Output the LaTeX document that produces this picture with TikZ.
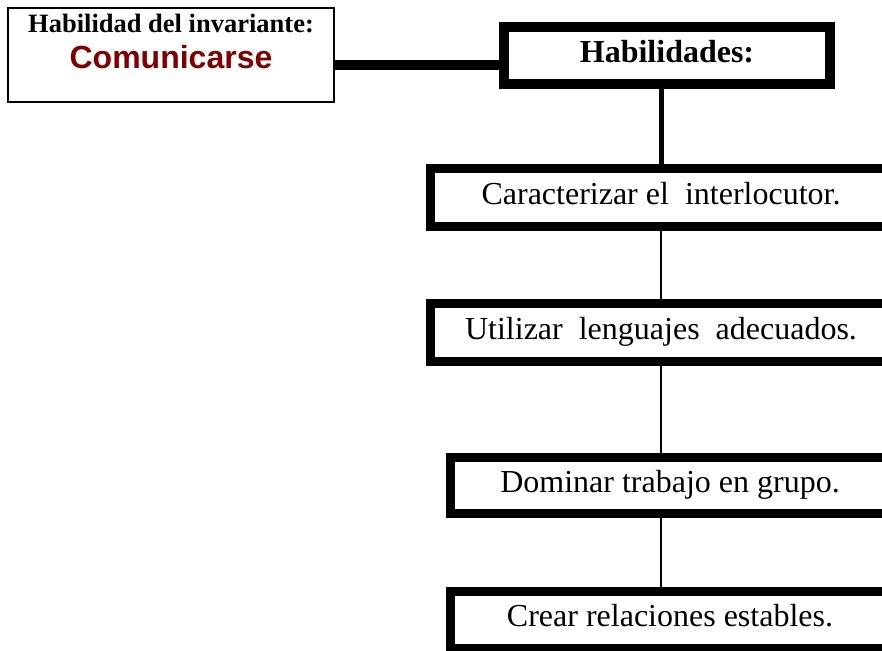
\documentclass[tikz,border=0pt]{standalone}
\usepackage{fontspec}
\setmainfont{Liberation Serif}
\newfontfamily\arialfont{Liberation Sans}
\definecolor{darkred}{HTML}{800000}
\begin{document}
\begin{tikzpicture}[x=1pt,y=-1pt,
  invbox/.style={draw,line width=1.5pt,minimum width=326pt,minimum height=94pt,inner sep=0pt},
  habbox/.style={draw,line width=10pt,minimum width=326pt,minimum height=57pt,inner sep=0pt,font=\fontsize{32}{38}\selectfont\bfseries},
  skillbox/.style={draw,line width=9pt,minimum height=56pt,inner sep=0pt,font=\fontsize{32}{38}\selectfont,text height=21pt,text depth=8pt},
  thickconn/.style={line width=10pt},
  midconn/.style={line width=5pt},
  thinconn/.style={line width=2pt}]
\useasboundingbox (0,0) rectangle (882,650);
\clip (0,0) rectangle (882,650);
\fill[white] (0,0) rectangle (882,650);
% left box
\node[invbox] (inv) at (171,55) {};
\node[anchor=base,font=\fontsize{26.5}{30}\selectfont\bfseries] (invt) at (171,33) {Habilidad del invariante:};
\node[anchor=base,font=\fontsize{32}{36}\selectfont\arialfont\bfseries,text=darkred] (invc) at (171,69) {Comunicarse};
% habilidades
\node[habbox,text height=22pt,text depth=7pt] (hab) at (667,55.5) {Habilidades:};
% skills
\node[skillbox,minimum width=461pt,minimum height=58pt] (c1) at (661,197.5) {Caracterizar el\ \ interlocutor.};
\node[skillbox,minimum width=461pt,minimum height=58pt] (c2) at (661,332.5) {Utilizar\ \ lenguajes\ \ adecuados.};
\node[skillbox,minimum width=439pt] (c3) at (670,485.5) {Dominar trabajo en grupo.};
\node[skillbox,minimum width=439pt,minimum height=57pt] (c4) at (670,620) {Crear relaciones estables.};
% connectors
\draw[thickconn] ([yshift=-10pt]inv.east) -- ([yshift=-10pt]inv.east -| hab.west);
\draw[midconn] (c1.north |- hab.south) -- (c1.north);
\draw[thinconn] (c1.south) -- (c2.north);
\draw[thinconn] (c2.south) -- (c2.south |- c3.north);
\draw[thinconn] (c2.south |- c3.south) -- (c2.south |- c4.north);
\end{tikzpicture}
\end{document}
